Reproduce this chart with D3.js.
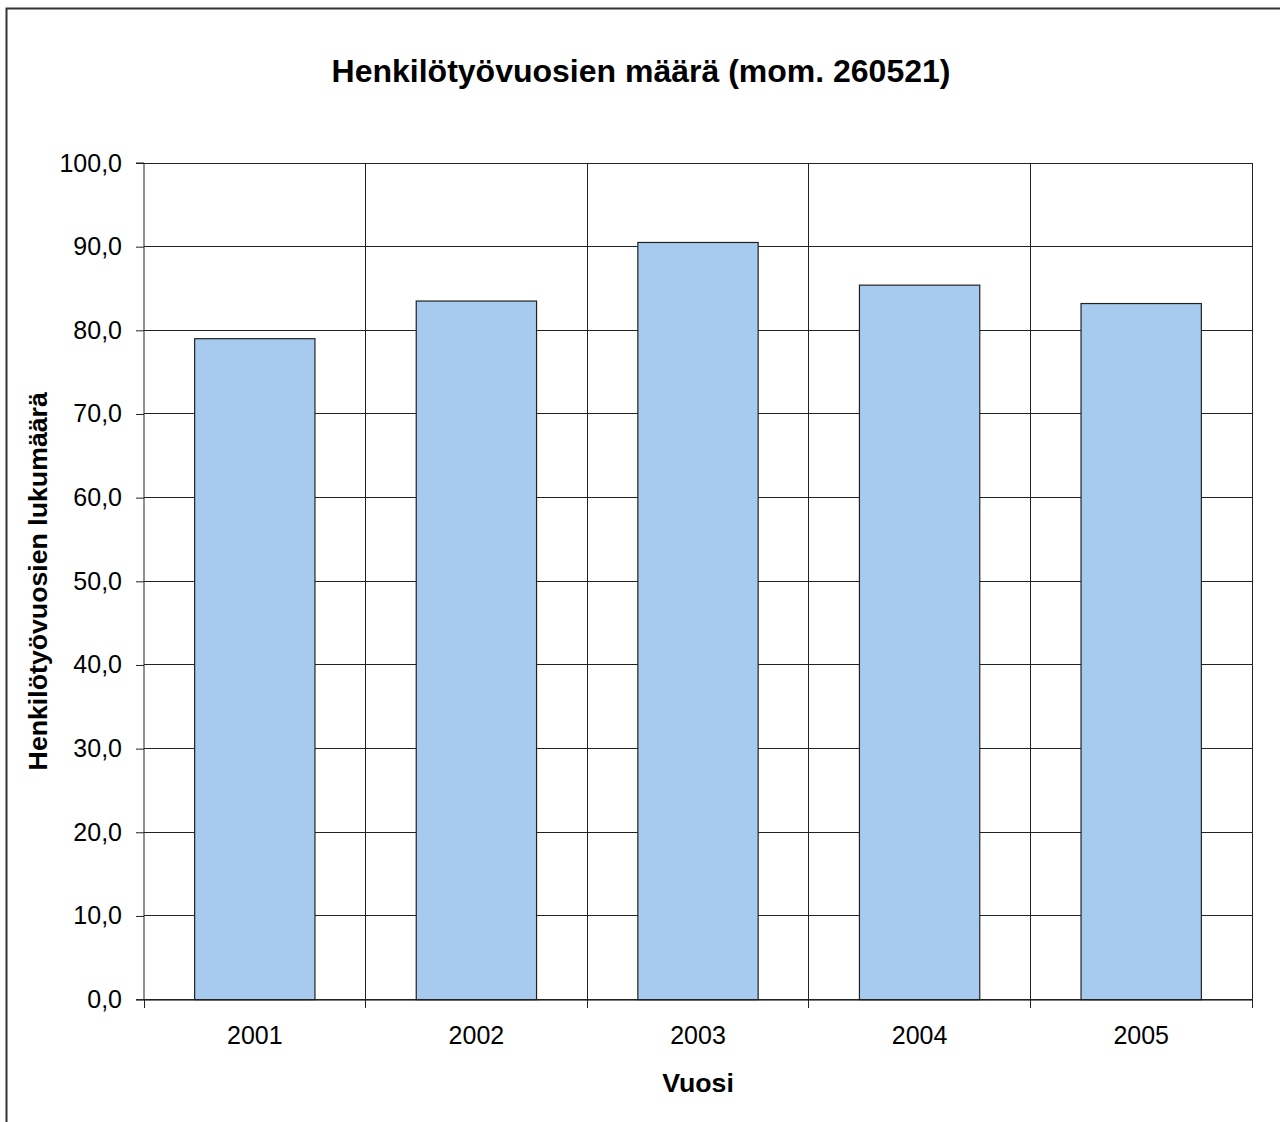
<!DOCTYPE html>
<html><head><meta charset="utf-8">
<script src="https://cdn.jsdelivr.net/npm/d3@7"></script>
<style>body{margin:0;background:#fff}svg{display:block}</style>
</head><body>
<script>
const years = ["2001","2002","2003","2004","2005"];
const values = [79.0, 83.5, 90.5, 85.4, 83.2];
const yTicks = [0,10,20,30,40,50,60,70,80,90,100];
const title = "Henkilötyövuosien määrä (mom. 260521)";
const xTitle = "Vuosi";
const yTitle = "Henkilötyövuosien lukumäärä";

const W = 1280, H = 1122;
const L = 144, R = 1252, T = 163, B = 999.6;
const font = "'Liberation Sans', Arial, sans-serif";

const svg = d3.select("body").append("svg").attr("width", W).attr("height", H);
svg.append("rect").attr("width", W).attr("height", H).attr("fill", "#fff");
svg.append("rect").attr("x", 6.5).attr("y", 8.5).attr("width", W + 10).attr("height", H + 10)
  .attr("fill", "none").attr("stroke", "#333").attr("stroke-width", 2);

const x = d3.scaleBand().domain(years).range([L, R]).paddingInner(0.457).paddingOuter(0.2285);
const xb = d3.scaleBand().domain(years).range([L, R]);
const y = d3.scaleLinear().domain([0, 100]).range([B, T]);

// horizontal gridlines
svg.append("g").selectAll("line").data(yTicks).join("line")
  .attr("x1", L).attr("x2", R).attr("y1", d => y(d)).attr("y2", d => y(d))
  .attr("stroke", "#222").attr("stroke-width", 1).attr("shape-rendering", "crispEdges");
// vertical gridlines at category boundaries
const bounds = years.map(d => xb(d)).concat([R]);
svg.append("g").selectAll("line").data(bounds.slice(1)).join("line")
  .attr("x1", d => d).attr("x2", d => d).attr("y1", T).attr("y2", B)
  .attr("stroke", "#222").attr("stroke-width", 1).attr("shape-rendering", "crispEdges");

// bars
svg.append("g").selectAll("rect").data(years).join("rect")
  .attr("x", d => x(d)).attr("width", x.bandwidth())
  .attr("y", (d, i) => y(values[i])).attr("height", (d, i) => y(0) - y(values[i]))
  .attr("fill", "#a7caef").attr("stroke", "#222").attr("stroke-width", 1.2);

// y axis
const ya = svg.append("g").attr("transform", `translate(${L},0)`)
  .call(d3.axisLeft(y).tickValues(yTicks).tickSize(8).tickPadding(14)
    .tickFormat(d => d3.format(".1f")(d).replace(".", ",")));
ya.select(".domain").attr("stroke", "#222").attr("d", `M-8,${T}H0V${B}H-8`);
ya.selectAll("line").attr("stroke", "#222");
ya.selectAll("text").attr("font-family", font).attr("font-size", 25).attr("fill", "#000");

// x axis
const xa = svg.append("g").attr("transform", `translate(0,${B})`)
  .call(d3.axisBottom(xb).tickSize(0).tickPadding(27));
xa.select(".domain").attr("stroke", "#222");
xa.selectAll("text").attr("font-family", font).attr("font-size", 25).attr("fill", "#000");
svg.append("g").selectAll("line").data(bounds).join("line")
  .attr("x1", d => d).attr("x2", d => d).attr("y1", B).attr("y2", B + 8)
  .attr("stroke", "#222").attr("shape-rendering", "crispEdges");

// titles
svg.append("text").attr("x", 641).attr("y", 82).attr("text-anchor", "middle")
  .attr("font-family", font).attr("font-weight", "bold").attr("font-size", 32).text(title);
svg.append("text").attr("x", (L + R) / 2).attr("y", 1092).attr("text-anchor", "middle")
  .attr("font-family", font).attr("font-weight", "bold").attr("font-size", 26.7).text(xTitle);
svg.append("text").attr("transform", `translate(47,${(T + B) / 2}) rotate(-90)`).attr("text-anchor", "middle")
  .attr("font-family", font).attr("font-weight", "bold").attr("font-size", 26.7).text(yTitle);
</script>
</body></html>
